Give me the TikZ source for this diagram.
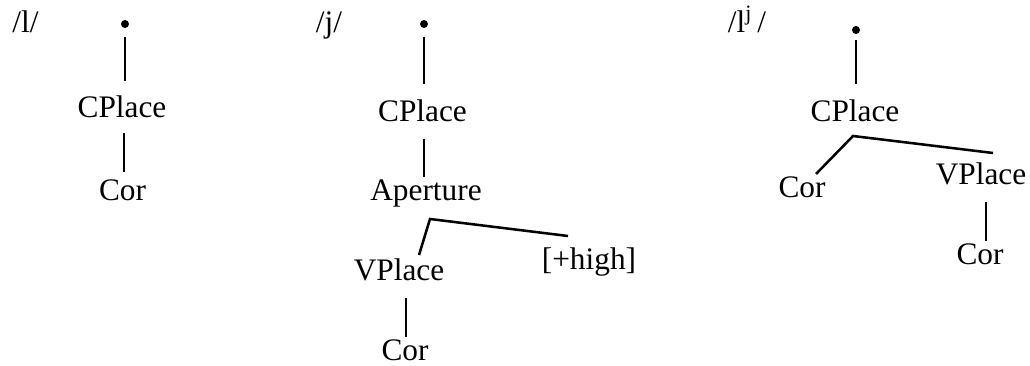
\documentclass[tikz,border=0pt]{standalone}
\usepackage{fontspec}
\setmainfont{Liberation Serif}
\usetikzlibrary{calc}
\begin{document}
\begin{tikzpicture}[x=0.75pt,y=-0.75pt,
  lab/.style={anchor=base,inner sep=0pt,font=\fontsize{23.5pt}{28pt}\selectfont},
  dotnode/.style={circle,fill=black,inner sep=0pt,minimum size=6pt},
  link/.style={line width=1.9pt}]
\useasboundingbox (0,0) rectangle (1030,366);
% ---------- /l/ ----------
\node[lab] (lab1) at (25.5,33) {/l/};
\node[dotnode] (dot1) at (125,24) {};
\node[lab] (cp1) at (122,118) {CPlace};
\node[lab] (cor1) at (122.5,201) {Cor};
\draw[link] ($(dot1)+(0,13)$) -- ($(dot1 |- cp1.base)+(0,-37)$);
\draw[link] ($(cp1.base)+(2,15)$) -- ($(cp1.base |- cor1.base)+(2,-29)$);
% ---------- /j/ ----------
\node[lab] (lab2) at (329,33) {/j/};
\node[dotnode] (dot2) at (424,24) {};
\node[lab] (cp2) at (422.5,122) {CPlace};
\node[lab] (ap) at (426,201) {Aperture};
\node[lab] (vp2) at (399,281) {VPlace};
\node[lab] (high) at (589,270) {[+high]};
\node[lab] (cor2) at (405,360) {Cor};
\coordinate (apex2) at ($(ap.base)+(4,18)$);
\draw[link] ($(dot2)+(0,13)$) -- ($(dot2 |- cp2.base)+(0,-38)$);
\draw[link] ($(dot2 |- cp2.base)+(0,17)$) -- ($(dot2 |- ap.base)+(0,-24)$);
\draw[link] ($(vp2.base)+(20,-26)$) -- (apex2) -- ($(high.base)+(-21,-34)$);
\draw[link] ($(vp2.base)+(7,17)$) -- ($(vp2.base |- cor2.base)+(7,-23)$);
% ---------- /l^j/ ----------
\node[lab] (lab3) at (747,33) {/l\textsuperscript{j}\,/};
\node[dotnode] (dot3) at (856,30) {};
\node[lab] (cp3) at (855,122) {CPlace};
\node[lab] (corL) at (802,198) {Cor};
\node[lab] (vp3) at (981,185) {VPlace};
\node[lab] (corR) at (980,265) {Cor};
\coordinate (apex3) at ($(cp3.base)+(-2,14)$);
\draw[link] ($(dot3)+(0,10)$) -- ($(dot3 |- cp3.base)+(0,-38)$);
\draw[link] ($(corL.base)+(14,-24)$) -- (apex3) -- ($(vp3.base)+(12,-32)$);
\draw[link] ($(vp3.base)+(5,17)$) -- ($(vp3.base |- corR.base)+(5,-24)$);
\end{tikzpicture}
\end{document}
